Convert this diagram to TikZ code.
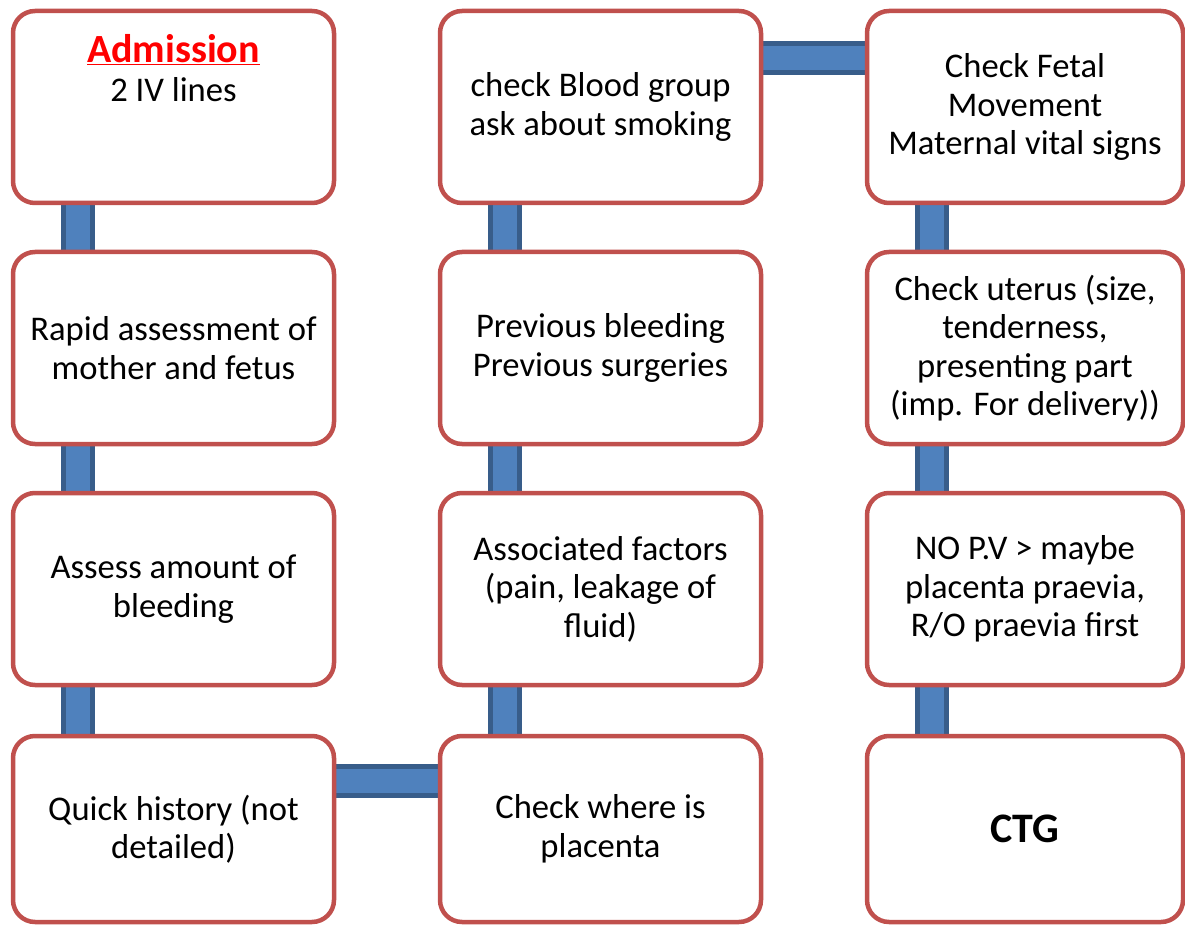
\documentclass[tikz,border=0pt]{standalone}
\usepackage{fontspec}
\setmainfont{Carlito}
\usetikzlibrary{backgrounds}
\definecolor{boxred}{HTML}{C0504D}
\definecolor{barblue}{HTML}{4F81BD}
\definecolor{bardark}{HTML}{385D8A}
\tikzset{
  stepbox/.style={draw=boxred, fill=white, line width=4.5pt, rounded corners=22pt,
    minimum width=321pt, minimum height=192pt, inner sep=0pt, align=center,
    font=\fontsize{34.6}{38.5}\selectfont},
  bar/.style={draw=bardark, line width=5pt, double=barblue, double distance=24pt}
}
\begin{document}
\begin{tikzpicture}[x=1pt, y=-1pt]
\useasboundingbox (0,0) rectangle (1185,925);
% first column
\node[stepbox] (adm) at (173.5,107) {{\fontsize{40}{44}\selectfont\bfseries\textcolor{red}{\underline{Admission}}}\\2 IV lines\rule[-78pt]{0pt}{78pt}};
\node[stepbox] (rapid) at (173.5,348) {Rapid assessment of\\mother and fetus};
\node[stepbox] (amount) at (173.5,589) {Assess amount of\\bleeding};
\node[stepbox, minimum height=186pt] (quick) at (173.5,829) {Quick history (not\\detailed)};
% second column
\node[stepbox] (blood) at (600.5,107) {check Blood group\\ask about smoking};
\node[stepbox] (prev) at (600.5,348) {Previous bleeding\\Previous surgeries};
\node[stepbox] (assoc) at (600.5,589) {Associated factors\\(pain, leakage of\\fluid)};
\node[stepbox, minimum height=186pt] (where) at (600.5,829) {Check where is\\placenta};
% third column
\node[stepbox, minimum width=316pt] (fetal) at (1025,107) {Check Fetal\\Movement\\Maternal vital signs};
\node[stepbox, minimum width=316pt] (uterus) at (1025,348) {Check uterus (size,\\tenderness,\\presenting part\\(imp. For delivery))};
\node[stepbox, minimum width=316pt] (pv) at (1025,589) {NO P.V > maybe\\placenta praevia,\\R/O praevia first};
\node[stepbox, minimum width=316pt, minimum height=186pt] (ctg) at (1025,829) {\fontsize{42}{48}\selectfont\bfseries CTG};
% connectors behind the boxes
\begin{scope}[on background layer]
\draw[bar] ([xshift=-95.5pt]adm.center) -- ([xshift=-95.5pt]quick.center);
\draw[bar] ([yshift=48pt]quick.center) -- ([yshift=48pt]where.center);
\draw[bar] ([xshift=-96pt]where.center) -- ([xshift=-96pt]blood.center);
\draw[bar] ([yshift=48.5pt]blood.center) -- ([yshift=48.5pt]fetal.center);
\draw[bar] ([xshift=-93pt]fetal.center) -- ([xshift=-93pt]ctg.center);
\end{scope}
\end{tikzpicture}
\end{document}
